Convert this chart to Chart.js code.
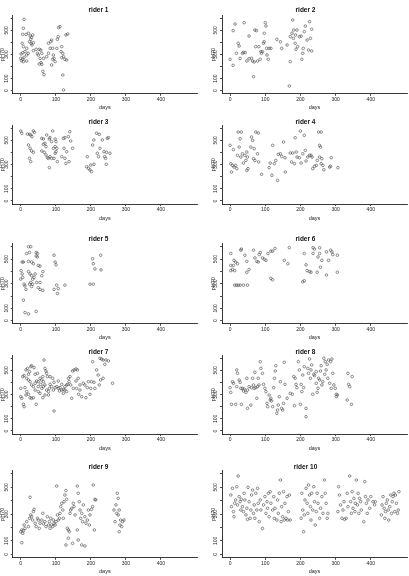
<!DOCTYPE html>
<html><head><meta charset="utf-8">
<script src="https://cdn.jsdelivr.net/npm/chart.js@4/dist/chart.umd.min.js"></script>
<style>
html,body{margin:0;padding:0;background:#fff;width:409px;height:576px;overflow:hidden;position:relative}
canvas{position:absolute}
</style></head><body>
<script>
const riderNames = ['rider 1','rider 2','rider 3','rider 4','rider 5','rider 6','rider 7','rider 8','rider 9','rider 10'];
const xTicks = [0,100,200,300,400];
const yTicks = [0,100,200,300,400,500,600];
const yTickLabels = ['0','100','','300','','500',''];
const xTitle = 'days';
const yTitle = 'pH70';

const r1Days = [9.5,7.6,5.7,15,22,27,31,28.5,34,25,29.5,32,36,4,7.6,17,12,5.7,1,0,5.7,9.5,17,21,7.6,17,2,36,44,47.5,53,57,60,50,55,58,53,60,65,63,66.5,74,79,84,88,85.5,79,91,93,95,98,88,91,103,104.5,107,112,108,117,115,120,122,117,126,120,122,129,134,131];
const r1Vals = [592,517,467,467,476,453,442,426,462,406,393,379,398,393,365,351,324,315,304,268,260,277,296,310,241,246,249,332,343,310,343,337,310,296,268,232,221,218,268,160,133,282,310,351,420,406,393,351,296,268,241,213,260,351,426,448,531,523,365,324,310,282,274,260,130,6,462,470,254];

const r2Days = [0,8.6,8.6,14,18,23,25.7,28.5,35,40,38,43,47.6,54,54,61,64,66.6,68.5,70.5,75,73,78,82,85.7,87.6,89.5,92,95,97,97,100,102,104,105,108.5,111,116,133,143,146.6,162,168.5,171,171,176,178,180,181,185,187.5,190,192,197,202,204,206.6,208,211,214,219,223,226,228.5,232,232,186];
const r2Vals = [260,210,498,553,310,393,370,268,310,564,318,315,246,453,265,268,246,116,238,503,498,365,246,365,260,324,310,324,393,476,406,564,536,351,296,260,351,351,426,406,351,379,39,241,448,476,586,434,503,393,343,503,365,448,453,260,310,351,489,536,420,337,572,434,509,329,462];

const r3Days = [0,3,19,25,28.5,32,36,39,22,26.6,31,36,25,28.5,60,64.6,64.6,69,72,74,81.7,83.6,88,91,98,100.7,98,103,100.7,98,93,60,67,72,76,79,83.6,88,95,104.5,81.7,117,121.6,126,123.5,131,135.9,140,142.5,148,138,129,126,190,188,193,197.6,202,200,209,205,208.6,216.6,224,218.5,222,226,232.7,237.5,239.4,242,244,245,250,254.6,247];
const r3Vals = [578,559,553,550,545,531,578,567,462,435,413,402,352,325,517,512,468,476,449,545,512,523,490,578,512,490,449,435,407,394,435,413,402,380,358,352,366,352,352,325,275,366,517,523,435,407,531,572,495,435,325,311,352,366,283,270,256,242,297,303,462,504,559,550,394,366,435,504,407,366,352,303,402,523,394,517];

const r4Days = [0,9.5,2,6.7,4,11,16,19,21,25.7,32,23,28.5,30.5,35,38,42,45,47.6,49.5,47.6,51,59,61,64,66.6,68.5,70.5,73,80,78,81,89.5,111,114,119,121,125.7,130,135,137,143,146.6,152,156,157,171,175,178,183,185,188,190.5,197,200,202,206.6,211,214,216,221,225.7,230,233,235,240,245,248,251.6,259,254.5,257,254.5,259,264,266.6,261,283,287.5,285.6,306.5];
const r4Vals = [459,424,308,294,239,280,294,267,377,445,569,569,514,363,390,313,377,335,404,363,253,267,445,528,500,349,432,335,569,561,390,322,220,275,313,212,459,308,335,170,385,390,368,487,357,239,396,322,396,308,522,404,363,357,577,313,390,542,418,330,363,377,377,363,267,286,294,335,569,569,459,445,363,308,294,258,349,280,357,286,275];

const r5Days = [22,28.5,17,25,44,47.5,4,7.6,22,31,36,44,47.5,50,55,1,4,0,5.7,9.5,12,15,22,26.6,31,34,38,41,28.5,34,31,25,45.6,50,55,63,55,60,63,7.6,12,22,44,95,98,100.7,95,102.6,107,104.5,126,197.6,207,205,207,211.6,228,229];
const r5Vals = [600,600,545,553,553,545,476,476,481,476,462,525,517,448,442,406,379,337,351,296,282,254,398,379,365,337,351,379,310,296,277,296,310,268,254,246,310,365,398,166,66,55,75,531,476,453,254,288,260,221,288,296,296,503,462,420,531,412];

const r6Days = [2,2,9.5,2,6.7,13,11,16,21,13,18,23,28.5,38,49.5,30.5,32,42,47.6,47.6,54,66.6,70.5,76,80,83,85.7,92,97,102,107.6,116,121,127.5,116,121,154,164,168.5,206.6,211,216,211,219,225.7,230,236,240,236,247.6,250,254.5,254.5,257,261,274,274,280,286,289.5,292,305,305];
const r6Vals = [545,448,448,406,415,406,489,476,462,288,288,288,288,288,288,572,581,531,481,393,415,572,509,481,476,536,553,509,498,489,545,564,564,586,343,332,489,462,592,315,324,453,545,406,398,393,592,581,545,393,517,545,592,434,489,558,370,489,572,558,536,531,393];

const r7Days = [0,0,3,7.6,9.5,5.7,9.5,15,19,25,28.5,31,38,17,22,26.6,31,12,17,15,22,26.6,31,36,44,41,36,41,45.6,50,50,55,57,60,63,64.6,66.5,69,72,74,76,60,64.6,69,74,79,81.7,63,69,79,83.6,88,91,95,93,98,103,95,107,110.6,112,117,121.6,126,131,131,134,136,140.6,142.5,138,145.5,148,152,157.7,161.5,164,159.6,169,165,174,169,178.6,183,186,190,193,197.6,199.5,202,205,209,211.6,216.6,221,226,230.7,235,243,250,224,228,240,235,262,41,47.6,22,83.6,107,117,126,150,157.7,121.6,50,55];
const r7Vals = [352,283,270,220,201,449,457,504,517,490,531,539,523,435,421,407,380,358,325,297,303,275,270,275,220,338,366,394,413,407,366,435,385,421,449,407,586,517,495,476,449,352,366,380,338,325,352,275,297,297,385,366,435,402,338,358,366,165,352,330,358,338,344,338,380,325,385,435,449,380,407,270,495,504,512,504,435,352,338,303,283,380,394,380,275,358,407,303,352,407,572,402,352,504,462,600,594,586,586,578,380,421,550,435,394,468,476,468,449,413,385,366,352,413,311,325,311];

const r8Days = [0,2,4,6.7,9.5,16,19,19,21,25.7,28.5,32,30.5,35,38,40,45,47.6,49.5,49.5,54,59,61,64,66.6,68.5,70.5,73,76,78,80,82,85.7,87.6,92,95,99,102,105,107,111,114,116,118,121,124,126,128.5,130,133,135,137,140,143,146.6,149.5,152,154,156,162,171,177,181,185,183,187.5,190,194,197,200,202,204,206.6,209,211,216,216,221,223,226,228.5,230,232,235,238,240,245,245,247.6,250,251.6,254.5,257,259,261,264,266.6,269,270.5,273,276,278,280,283,286,287.5,289.5,292,295,299,302,305,302,333,335,337,345,347,340];
const r8Vals = [358,319,220,407,394,220,366,504,476,421,402,220,352,352,330,347,319,435,338,187,366,214,358,435,380,352,484,358,270,366,435,380,572,517,476,385,352,325,228,201,297,256,270,248,201,358,435,495,539,146,173,214,283,407,187,173,228,567,385,270,311,303,449,435,209,385,358,572,504,220,385,325,462,358,531,187,118,517,476,594,435,504,545,303,468,457,490,394,319,352,435,421,495,539,380,407,600,468,572,504,550,435,586,394,572,352,594,476,380,352,303,297,283,256,476,385,220,449,366];

const r9Days = [0,3,5.7,7.6,3,9.5,12,17,22,25,26.6,28.5,31,34,36,38,41,44,47.5,50,53,55,60,63,64.6,69,72,76,79,81.7,83.6,85.5,88,91,93,95,98,100.7,102.6,104.5,107,110.6,112,114,117,120,121.6,123.5,126,129,131,133,129,136,138.7,140.6,142.5,145.5,150,152,155,136,148,161.5,164,167,169,171,174,176.7,161.5,164,174,183,178.6,183,186,190,193,195.7,197.6,202,205,207,210,211.6,214,266,269,271.7,275.5,278,281,283,285,288,290.7,294.5,281,274,278];
const r9Vals = [169,182,157,177,87,219,194,244,207,269,426,294,281,256,319,336,232,207,269,256,194,232,256,306,227,244,207,281,219,244,194,269,219,207,256,232,219,244,510,294,256,269,306,356,381,331,269,393,443,476,411,194,70,182,169,306,331,344,381,356,294,120,82,510,456,393,331,269,306,244,182,107,70,62,369,281,232,256,331,219,294,336,356,518,182,411,406,331,244,369,456,418,331,219,256,207,244,256,169,306,294];

const r10Days = [2,4,6.7,9.5,11,13,16,19,21,23,25.7,28.5,30.5,32,35,38,40,42,45,47.6,49.5,51,54,57,59,61,64,66.6,68.5,70.5,73,76,78,80,83,85.7,87.6,92,95,99,102,105,106.6,108.5,111,114,116,121,124,125.7,127.5,133,135,137,140,143,145,146.6,149.5,152,154,156,159,162,164,165.6,168.5,171,202,204,206.6,209,211,213,216,219,221,223,225.7,228.5,230,232,235,238,240,242,245,247.6,250,254.5,257,261,264,268.5,270.5,273,276,278,306.5,308.5,311,314,318,321,324,325.6,330,333,335,340,343,345,347,349.5,352,355,356,359,362,364,366,368,371,373,380,383,385,387.5,390,392,397,400,406.5,411,413,430,432,435,438,440,442,444,447,449.5,451,454,457,459,461,463.6,466,468,470,473,476,478,480];
const r10Vals = [443,356,493,319,281,381,406,505,369,585,431,393,331,411,356,319,456,406,294,344,261,500,393,269,331,443,480,306,369,269,456,331,493,381,244,406,331,194,369,431,306,393,344,456,281,468,381,331,431,269,344,256,406,306,456,555,244,356,281,468,256,381,269,431,256,319,443,256,269,456,331,169,294,406,493,381,306,518,443,356,256,456,331,505,393,219,319,456,381,269,344,431,306,555,456,381,269,306,319,505,443,369,269,331,393,261,269,456,356,585,393,306,468,344,418,319,381,555,369,456,306,418,393,331,244,543,431,381,306,406,344,431,393,369,393,294,369,431,344,269,319,381,406,331,256,356,443,306,393,431,456,319,443,381,306,331,468];

const riderDays = [r1Days,r2Days,r3Days,r4Days,r5Days,r6Days,r7Days,r8Days,r9Days,r10Days];
const riderVals = [r1Vals,r2Vals,r3Vals,r4Vals,r5Vals,r6Vals,r7Vals,r8Vals,r9Vals,r10Vals];

// layout (pixels)
const cols = [{left:0,w:205,yw:12.7,pr:8,ytp:0},{left:204,w:205,yw:18,pr:2,ytp:6.3}];
const rows = [
  {top:0,h:115,ct:15.2,cb:93.8,tc:10},
  {top:115,h:115,ct:10.15,cb:89.15,tc:7},
  {top:230,h:115,ct:13.5,cb:93.9,tc:9},
  {top:345,h:115,ct:10.15,cb:89.15,tc:7},
  {top:460,h:116,ct:10.5,cb:97.8,tc:8}
];
const FONT = "'Liberation Sans', Arial, sans-serif";
const INK = '#222';

riderNames.forEach((name, i) => {
  const col = cols[i % 2], row = rows[Math.floor(i / 2)];
  const cv = document.createElement('canvas');
  cv.width = col.w; cv.height = row.h;
  cv.style.left = col.left + 'px'; cv.style.top = row.top + 'px';
  cv.style.width = col.w + 'px'; cv.style.height = row.h + 'px';
  document.body.appendChild(cv);
  const lh = 6.5;
  const padTop = Math.min(row.tc - lh / 2, row.ct - lh);
  const padBottom = Math.max(0, row.ct - padTop - lh);
  const xh = row.h - row.cb;
  const xtLh = 6;
  const xtPad = Math.max(0, row.h - (row.cb + 13.7) - xtLh / 2);
  const pts = riderDays[i].map((d, k) => ({x: d, y: riderVals[i][k]}));
  new Chart(cv, {
    type: 'scatter',
    data: {datasets: [{data: pts, pointStyle: 'circle', pointRadius: 1.3, borderWidth: 0.6,
      borderColor: '#444', backgroundColor: 'rgba(0,0,0,0)', pointHoverRadius: 1.3}]},
    options: {
      responsive: false, animation: false, devicePixelRatio: 1,
      layout: {padding: {left: 0, right: col.pr, top: 0, bottom: 0}},
      plugins: {
        legend: {display: false}, tooltip: {enabled: false},
        title: {display: true, text: name, color: '#111',
          font: {family: FONT, size: 6.5, weight: 'bold', lineHeight: 1},
          padding: {top: padTop, bottom: padBottom}}
      },
      scales: {
        x: {type: 'linear', min: -23, max: 503,
          afterBuildTicks: s => { s.ticks = xTicks.map(v => ({value: v})); },
          afterFit: s => { s.height = xh; },
          ticks: {autoSkip: false, maxRotation: 0, minRotation: 0, padding: 1, color: INK,
            font: {family: FONT, size: 5, lineHeight: 1}, callback: v => String(v)},
          grid: {display: true, drawOnChartArea: false, drawTicks: true, tickLength: 2, color: INK, lineWidth: 0.8},
          border: {display: true, color: INK, width: 0.9},
          title: {display: true, text: xTitle, color: INK, font: {family: FONT, size: 5.5, lineHeight: 1},
            padding: {top: 0, bottom: xtPad}}
        },
        y: {type: 'linear', min: -26, max: 626,
          afterBuildTicks: s => { s.ticks = yTicks.map(v => ({value: v})); },
          afterFit: s => { s.width = col.yw; },
          ticks: {autoSkip: false, minRotation: 90, maxRotation: 90, crossAlign: 'center', padding: 0, color: INK,
            font: {family: FONT, size: 5, lineHeight: 1},
            callback: (v) => { const k = yTicks.indexOf(v); return k >= 0 ? yTickLabels[k] : ''; }},
          grid: {display: true, drawOnChartArea: false, drawTicks: true, tickLength: 2, color: INK, lineWidth: 0.8},
          border: {display: true, color: INK, width: 0.9},
          title: {display: true, text: yTitle, color: INK, font: {family: FONT, size: 5.5, lineHeight: 1},
            padding: {top: col.ytp, bottom: 0}}
        }
      }
    }
  });
});
</script>
</body></html>
